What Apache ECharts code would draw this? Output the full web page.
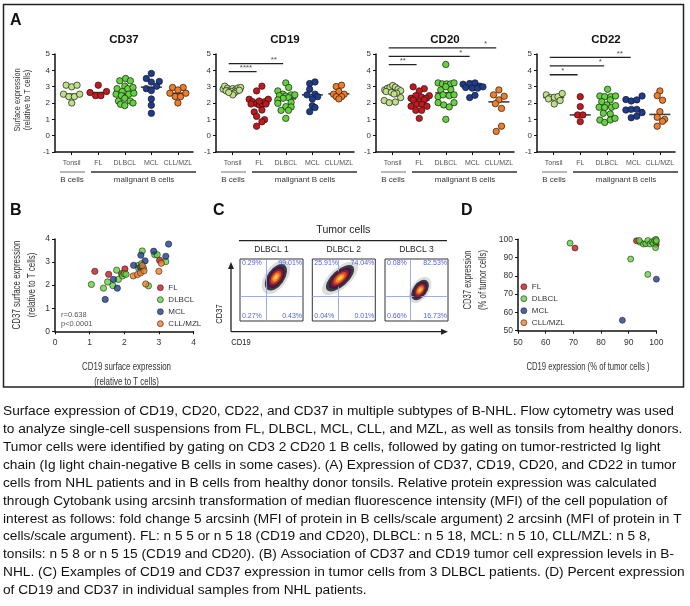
<!DOCTYPE html>
<html><head><meta charset="utf-8">
<script src="https://cdn.jsdelivr.net/npm/echarts@6/dist/echarts.min.js"></script>
<style>html,body{margin:0;padding:0;background:#fff}#c{width:690px;height:606px}</style>
</head><body><div id="c"></div>
<script>
// ================= DATA =================
const categories = ['Tonsil','FL','DLBCL','MCL','CLL/MZL'];
const markerNames = ['CD37','CD19','CD20','CD22'];
const groupLabels = ['B cells','malignant B cells'];

// Panel A: [beeswarm offset, surface expression]
const cd37Tonsil = [[-0.21,3.09],[0,2.99],[0.2,3.09],[-0.31,2.54],[-0.11,2.39],[0.1,2.39],[0.3,2.54],[0,2.0]];
const cd37FL = [[0,3.09],[-0.31,2.64],[-0.1,2.45],[0.1,2.45],[0.31,2.7]];
const cd37DLBCL = [[-0.19,3.36],[0.03,3.5],[0.21,3.36],[-0.29,2.88],[0,3.03],[0.11,2.88],[0.31,2.95],[-0.1,2.7],[-0.33,2.54],[-0.13,2.45],[0.15,2.54],[0.34,2.6],[0,2.29],[-0.24,2.12],[0.2,2.12],[-0.16,1.92],[0,1.84],[0.31,2.0]];
const cd37MCL = [[0,3.81],[-0.19,3.5],[0,3.28],[0.3,3.32],[0.2,3.03],[-0.19,2.88],[0,2.76],[0,2.25],[0,1.86],[0,1.37]];
const cd37CLL = [[-0.2,2.95],[0.2,2.95],[0,2.8],[-0.3,2.6],[0.3,2.6],[-0.1,2.39],[0.1,2.39],[0,2.0]];
const cd37Medians = [2.54,2.64,2.54,2.97,2.6];
const cd37Sig = [];

const cd19Tonsil = [[-0.36,2.85],[-0.3,3.03],[-0.2,2.9],[-0.1,2.8],[0,2.88],[0.1,2.8],[0.2,2.92],[0.3,2.95],[-0.25,2.75],[-0.05,2.7],[0.15,2.72],[0.05,2.6],[0,2.5],[-0.15,2.65],[0.25,2.78]];
const cd19FL = [[0.1,3.03],[-0.1,2.74],[-0.38,2.23],[-0.25,2.08],[-0.1,1.96],[0,1.88],[0.1,1.96],[0.21,2.08],[0.34,2.23],[-0.31,1.94],[0.25,1.94],[0,2.12],[-0.19,1.45],[0.1,1.57],[-0.1,1.18],[0.2,0.98],[0.1,0.85],[-0.1,0.58]];
const cd19DLBCL = [[0,3.23],[-0.3,2.74],[0.11,2.95],[-0.11,2.54],[-0.24,2.45],[0,2.43],[0.2,2.5],[0.34,2.5],[0.1,2.33],[-0.1,2.29],[-0.3,2.19],[0.2,2.04],[-0.3,1.98],[0,1.78],[0.2,1.76],[-0.18,1.55],[0.1,1.55],[0,1.06]];
const cd19MCL = [[-0.1,3.19],[0.1,3.29],[-0.1,2.84],[-0.2,2.5],[0.1,2.54],[0.2,2.39],[0,2.25],[0,1.84],[0.1,1.72],[-0.1,1.47]];
const cd19CLL = [[-0.1,3.01],[0.1,3.09],[0,2.7],[-0.2,2.54],[0.2,2.54],[-0.1,2.39],[0.1,2.39],[0,2.25]];
const cd19Medians = [2.76,1.96,2.25,2.5,2.56];
const cd19Sig = [[1,'****',3.92,0.5],[2,'**',4.41,1.55]];

const cd20Tonsil = [[-0.3,2.8],[-0.2,2.9],[-0.1,2.95],[0,3.07],[0.1,2.97],[0.2,2.85],[0.3,2.75],[-0.25,2.7],[-0.05,2.65],[0.15,2.6],[0.05,2.55],[-0.32,2.15],[-0.13,2.02],[0.1,2.06],[0.3,2.33]];
const cd20FL = [[-0.23,2.99],[0.19,2.88],[0,2.74],[-0.13,2.45],[0.09,2.35],[0.38,2.45],[-0.31,2.29],[0.25,2.29],[0,2.08],[0.19,2.19],[-0.23,2.19],[-0.31,1.8],[-0.09,1.92],[0.1,1.92],[0.29,1.8],[-0.13,1.55],[0.09,1.55],[0,1.06]];
const cd20DLBCL = [[0,4.36],[-0.29,3.23],[-0.13,3.17],[0.03,3.17],[0.18,3.17],[0.31,3.23],[-0.19,2.8],[0.19,2.82],[0,3.0],[-0.29,2.39],[-0.1,2.5],[0.13,2.45],[0.31,2.5],[-0.29,2.02],[-0.08,1.88],[0.13,1.76],[0.31,2.02],[0,1.0]];
const cd20MCL = [[-0.35,3.15],[-0.1,3.19],[0.1,3.23],[0.28,3.03],[-0.25,2.95],[0,2.91],[0.2,2.91],[0.4,2.99],[-0.1,2.33],[0.1,2.47]];
const cd20CLL = [[0,2.8],[-0.2,2.5],[0.2,2.41],[0,2.19],[-0.13,1.96],[0.1,1.67],[0.1,0.58],[-0.1,0.26]];
const cd20Medians = [2.66,2.19,2.62,2.95,2.07];
const cd20Sig = [[1,'**',4.35,0.38],[3,'*',4.85,2.57],[4,'*',5.37,3.5]];

const cd22Tonsil = [[-0.28,2.5],[-0.13,2.33],[0.02,2.35],[0.16,2.39],[0.32,2.58],[0.24,2.15],[0.02,1.94],[-0.2,2.25]];
const cd22FL = [[0,2.39],[0,1.78],[-0.1,1.27],[0.1,1.27],[0,0.86]];
const cd22DLBCL = [[0.03,2.84],[-0.26,2.43],[-0.08,2.39],[0.15,2.39],[0.33,2.43],[-0.19,2.08],[0.13,2.19],[0,1.88],[-0.29,1.74],[-0.08,1.72],[0.18,1.74],[0.33,1.84],[0.13,1.33],[-0.13,1.37],[-0.26,0.96],[-0.08,0.81],[0.13,0.96],[0.31,1.06]];
const cd22MCL = [[-0.28,2.21],[-0.08,2.12],[0.13,2.19],[0.33,2.43],[-0.28,1.57],[-0.08,1.61],[0.13,1.61],[0.33,1.41],[-0.08,1.1],[0.13,1.19]];
const cd22CLL = [[0,2.74],[-0.1,2.45],[0.1,2.17],[0,1.47],[-0.1,1.13],[0.18,1.0],[0.1,0.88],[-0.1,0.58]];
const cd22Medians = [2.34,1.27,1.78,1.59,1.3];
const cd22Sig = [[1,'*',3.73,0.34],[2,'*',4.27,1.76],[3,'**',4.79,2.49]];

// Panel B: [CD19, CD37] relative to T cells
const bFL = [[1.15,2.6],[1.55,2.47],[1.92,2.5],[2.02,2.7],[3.02,3.08]];
const bDLBCL = [[1.05,2.03],[1.4,1.87],[1.52,2.14],[1.67,1.98],[1.78,2.65],[1.83,2.25],[1.95,2.4],[2.0,2.5],[2.05,2.47],[2.4,2.85],[2.42,2.72],[2.5,2.93],[2.52,3.48],[2.55,2.75],[2.88,3.32],[2.95,3.32],[3.2,3.02],[2.7,1.97]];
const bMCL = [[1.45,1.38],[1.69,2.25],[1.8,1.87],[2.27,2.86],[2.48,3.3],[2.47,2.76],[2.6,3.05],[2.85,3.47],[3.2,3.25],[3.28,3.78]];
const bCLL = [[2.26,2.4],[2.38,2.46],[2.47,2.53],[2.57,2.62],[2.62,2.05],[3.0,2.6],[3.07,2.95],[2.52,2.85]];
const bStats = ['r=0.638','p<0.0001'];

// Panel D: [% CD19+, % CD37+]
const dFL = [[70.6,95.2],[92.8,99.2],[99.9,97.2]];
const dDLBCL = [[68.8,97.9],[90.7,89.2],[96.9,80.8],[94.1,98.4],[95.3,97.4],[96.2,97.6],[96.9,99.3],[97.7,97.4],[98.4,98.6],[98.9,97.8],[99.3,99.4],[99.8,100],[99.7,95.4],[99.9,98.6],[100,99.3],[93.8,99.4]];
const dMCL = [[87.7,55.7],[100,78.2]];

// Panel C: flow cytometry examples
const flowSamples = ['DLBCL 1','DLBCL 2','DLBCL 3'];
const flowCenters = [[0.57,0.705],[0.44,0.69],[0.556,0.5]];
const flowGates = [[0.41,0.4],[0.41,0.4],[0.4,0.4]];
const flowQuadrants = [['0.29%','99.01%','0.27%','0.43%'],['25.91%','74.04%','0.04%','0.01%'],['0.08%','82.53%','0.66%','16.73%']];

const captionLines = [
 'Surface expression of CD19, CD20, CD22, and CD37 in multiple subtypes of B-NHL. Flow cytometry was used',
 'to analyze single-cell suspensions from FL, DLBCL, MCL, CLL, and MZL, as well as tonsils from healthy donors.',
 'Tumor cells were identified by gating on CD3 2 CD20 1 B cells, followed by gating on tumor-restricted Ig light',
 'chain (Ig light chain-negative B cells in some cases). (A) Expression of CD37, CD19, CD20, and CD22 in tumor',
 'cells from NHL patients and in B cells from healthy donor tonsils. Relative protein expression was calculated',
 'through Cytobank using arcsinh transformation of median fluorescence intensity (MFI) of the cell population of',
 'interest as follows: fold change 5 arcsinh (MFI of protein in B cells/scale argument) 2 arcsinh (MFI of protein in T',
 'cells/scale argument). FL: n 5 5 or n 5 18 (CD19 and CD20), DLBCL: n 5 18, MCL: n 5 10, CLL/MZL: n 5 8,',
 'tonsils: n 5 8 or n 5 15 (CD19 and CD20). (B) Association of CD37 and CD19 tumor cell expression levels in B-',
 'NHL. (C) Examples of CD19 and CD37 expression in tumor cells from 3 DLBCL patients. (D) Percent expression',
 'of CD19 and CD37 in individual samples from NHL patients.'
];

// ================= STYLE / LAYOUT =================
const FONT = '"Liberation Sans", Arial, Helvetica, sans-serif';
const colors = ['#bfe08a','#c8161d','#62d33c','#1e3c8f','#f27c28'];
const A_LEFT = [55,216,376,537], A_TOP = 54, A_W = 138, A_H = 98;
const C_LEFT = [240,312.3,385], C_TOP = 259, C_W = 63, C_H = 62;
const flowSize = [[30,17],[35,16],[23,14]];
const flowAngle = [55,42,54];
const blobLayers = [
  {s:1.28, c:'rgba(60,60,60,0.22)'},
  {s:1.0, c:'#141414'},
  {s:0.8, c:'#3b0f4f'},
  {s:0.64, c:'#a41d2c'},
  {s:0.48, c:'#e8541e'},
  {s:0.32, c:'#f7a524'},
  {s:0.16, c:'#ffe45a'}
];

const aSets = [
  {groups:[cd37Tonsil,cd37FL,cd37DLBCL,cd37MCL,cd37CLL], med:cd37Medians, sig:cd37Sig},
  {groups:[cd19Tonsil,cd19FL,cd19DLBCL,cd19MCL,cd19CLL], med:cd19Medians, sig:cd19Sig},
  {groups:[cd20Tonsil,cd20FL,cd20DLBCL,cd20MCL,cd20CLL], med:cd20Medians, sig:cd20Sig},
  {groups:[cd22Tonsil,cd22FL,cd22DLBCL,cd22MCL,cd22CLL], med:cd22Medians, sig:cd22Sig}
];

const grid = [], xAxis = [], yAxis = [], series = [], graphic = [];
const axLine = {show:true, onZero:false, lineStyle:{color:'#111', width:1.5}};
const axTick = {show:true, length:3, lineStyle:{color:'#111', width:1}};

// ---- Panel A ----
aSets.forEach((set, i) => {
  grid.push({left:A_LEFT[i], top:A_TOP, width:A_W, height:A_H});
  xAxis.push({gridIndex:i, type:'value', min:-0.63, max:4.57, axisLine:axLine,
    axisTick:Object.assign({}, axTick, {customValues:[0,1,2,3,4]}),
    axisLabel:{customValues:[0,1,2,3,4], formatter:v=>categories[Math.round(v)], fontSize:7, color:'#555', margin:8},
    splitLine:{show:false}});
  yAxis.push({gridIndex:i, type:'value', min:-1, max:5, interval:1, axisLine:axLine, axisTick:axTick,
    axisLabel:{fontSize:8, color:'#333', margin:5}, splitLine:{show:false}});
  series.push({type:'scatter', name:markerNames[i]+' median', xAxisIndex:i, yAxisIndex:i, silent:true, z:2,
    symbol:'rect', symbolSize:[21,1.6], itemStyle:{color:'#111'},
    data:set.med.map((v,j)=>[j,v])});
  set.groups.forEach((g, j) => {
    series.push({type:'scatter', name:markerNames[i]+' '+categories[j], xAxisIndex:i, yAxisIndex:i, silent:true, z:3,
      symbolSize:6.4, itemStyle:{color:colors[j], borderColor:'#1a1a1a', borderWidth:0.7, opacity:1},
      data:g.map(([dx,v])=>[j+dx, v])});
  });
  set.sig.forEach(([t, lab, lev, sx]) => {
    series.push({type:'line', xAxisIndex:i, yAxisIndex:i, silent:true, clip:false, symbol:'none',
      lineStyle:{color:'#222', width:1.3}, data:[[-0.15,lev],[t-0.1,lev]]});
    series.push({type:'scatter', xAxisIndex:i, yAxisIndex:i, silent:true, clip:false, symbolSize:0,
      label:{show:true, position:'top', distance:0, formatter:lab, fontSize:8, color:'#222'},
      data:[[sx,lev]]});
  });
});

// ---- Panel B ----
const gB = grid.length;
grid.push({left:55, top:239, width:138.5, height:92.3});
xAxis.push({gridIndex:gB, type:'value', min:0, max:4, interval:1, axisLine:axLine, axisTick:axTick,
  axisLabel:{fontSize:8.5, color:'#333', margin:7}, splitLine:{show:false}});
yAxis.push({gridIndex:gB, type:'value', min:0, max:4, interval:1, axisLine:axLine, axisTick:axTick,
  axisLabel:{fontSize:8.5, color:'#333', margin:5}, splitLine:{show:false}});
[['FL',bFL,1],['DLBCL',bDLBCL,2],['MCL',bMCL,3],['CLL/MZL',bCLL,4]].forEach(([n,d,ci]) => {
  series.push({type:'scatter', name:n, xAxisIndex:gB, yAxisIndex:gB, silent:true, symbolSize:6.3,
    itemStyle:{color:colors[ci], borderColor:'#1a1a1a', borderWidth:0.7}, data:d});
});

// ---- Panel D ----
const gD = grid.length;
grid.push({left:518, top:239.3, width:138.4, height:91.4});
xAxis.push({gridIndex:gD, type:'value', min:50, max:100, interval:10, axisLine:axLine, axisTick:axTick,
  axisLabel:{fontSize:8.5, color:'#333', margin:7}, splitLine:{show:false}});
yAxis.push({gridIndex:gD, type:'value', min:50, max:100, interval:10, axisLine:axLine, axisTick:axTick,
  axisLabel:{fontSize:8.5, color:'#333', margin:5}, splitLine:{show:false}});
[['FL',dFL,1],['DLBCL',dDLBCL,2],['MCL',dMCL,3]].forEach(([n,d,ci]) => {
  series.push({type:'scatter', name:n, xAxisIndex:gD, yAxisIndex:gD, silent:true, symbolSize:6, clip:false,
    itemStyle:{color:colors[ci], borderColor:'#1a1a1a', borderWidth:0.7}, data:d});
});

// ---- Panel C ----
flowSamples.forEach((s, k) => {
  const gi = grid.length;
  grid.push({left:C_LEFT[k], top:C_TOP, width:C_W, height:C_H, show:true, borderColor:'#333', borderWidth:1, backgroundColor:'#fff'});
  xAxis.push({gridIndex:gi, type:'value', min:0, max:1, show:false});
  yAxis.push({gridIndex:gi, type:'value', min:0, max:1, show:false});
  blobLayers.forEach((L, li) => {
    const sObj = {type:'scatter', xAxisIndex:gi, yAxisIndex:gi, silent:true, z:3+li,
      symbol:'circle', symbolSize:[flowSize[k][0]*L.s, flowSize[k][1]*L.s], symbolRotate:flowAngle[k],
      itemStyle:{color:L.c}, data:[flowCenters[k]]};
    if (li === 0) {
      sObj.markLine = {silent:true, symbol:['none','none'], label:{show:false},
        lineStyle:{color:'#8ea4ea', width:0.9, type:'solid'},
        data:[{xAxis:flowGates[k][0]},{yAxis:flowGates[k][1]}]};
    }
    series.push(sObj);
  });
});

// ================= GRAPHIC (text, frames) =================
function T(x, y, text, o) {
  o = o || {};
  return {type:'text', x:x, y:y, rotation:o.rot||0, scaleX:o.sx||1, silent:true, z:50,
    style:{text:text, fill:o.color||'#222', fontSize:o.size||9, fontFamily:o.family||FONT,
      fontWeight:o.weight||'normal', align:o.align||'center', verticalAlign:'middle'}};
}
function Lg(x1,y1,x2,y2,c,w){return {type:'line', silent:true, z:50, shape:{x1,y1,x2,y2}, style:{stroke:c||'#222', lineWidth:w||1.3}};}

graphic.push({type:'rect', silent:true, shape:{x:3.5,y:4.5,width:680,height:382.5}, style:{fill:'none', stroke:'#222', lineWidth:1.5}});
// panel letters
graphic.push(T(10,21,'A',{size:16, weight:'bold', align:'left', color:'#111'}));
graphic.push(T(10,211,'B',{size:16, weight:'bold', align:'left', color:'#111'}));
graphic.push(T(213,211,'C',{size:16, weight:'bold', align:'left', color:'#111'}));
graphic.push(T(461,211,'D',{size:16, weight:'bold', align:'left', color:'#111'}));
// panel A titles, group labels
markerNames.forEach((m, i) => {
  const L = A_LEFT[i];
  graphic.push(T(L+69, 40, m, {size:11.5, weight:'bold', color:'#111'}));
  graphic.push(Lg(L+5,172,L+30,172,'#999',1.4));
  graphic.push(Lg(L+36,172,L+141,172,'#333',1.4));
  graphic.push(T(L+17,179.5,groupLabels[0],{size:8, color:'#333'}));
  graphic.push(T(L+89,179.5,groupLabels[1],{size:8, color:'#333'}));
});
graphic.push(T(18,100,'Surface expression',{size:9, sx:0.82, rot:Math.PI/2, color:'#333'}));
graphic.push(T(28,100,'(relative to T cells)',{size:9, sx:0.82, rot:Math.PI/2, color:'#333'}));
// panel B labels
graphic.push(T(17,285,'CD37 surface expression',{size:11, sx:0.72, rot:Math.PI/2, color:'#333'}));
graphic.push(T(32,285,'(relative to T cells)',{size:11, sx:0.72, rot:Math.PI/2, color:'#333'}));
graphic.push(T(126.5,367,'CD19 surface expression',{size:11, sx:0.72, color:'#333'}));
graphic.push(T(126.5,382,'(relative to T cells)',{size:11, sx:0.72, color:'#333'}));
graphic.push(T(61,314.5,bStats[0],{size:7.5, align:'left', color:'#555'}));
graphic.push(T(61,324,bStats[1],{size:7.5, align:'left', color:'#555'}));
// panel D labels
graphic.push(T(468,280,'CD37 expression',{size:11, sx:0.7, rot:Math.PI/2, color:'#333'}));
graphic.push(T(483,280,'(% of tumor cells)',{size:11, sx:0.7, rot:Math.PI/2, color:'#333'}));
graphic.push(T(588,367,'CD19 expression (% of tumor cells )',{size:11, sx:0.7, color:'#333'}));
// panel C labels
graphic.push(T(343.3,230,'Tumor cells',{size:10.5, color:'#222'}));
graphic.push(Lg(239,240.7,447,240.7,'#222',1.3));
flowSamples.forEach((s,k) => {
  const L = C_LEFT[k];
  graphic.push(T(L+C_W/2,250,s,{size:8.5, color:'#222'}));
  const q = flowQuadrants[k];
  graphic.push(T(L+2,C_TOP+4.5,q[0],{size:7, align:'left', color:'#4f63e6'}));
  graphic.push(T(L+C_W-1,C_TOP+4.5,q[1],{size:7, align:'right', color:'#4f63e6'}));
  graphic.push(T(L+2,C_TOP+C_H-4.5,q[2],{size:7, align:'left', color:'#4f63e6'}));
  graphic.push(T(L+C_W-1,C_TOP+C_H-4.5,q[3],{size:7, align:'right', color:'#4f63e6'}));
});
graphic.push(Lg(231,331.7,231,268,'#222',1.3));
graphic.push(Lg(231,331.7,442,331.7,'#222',1.3));
graphic.push({type:'polygon', silent:true, z:50, shape:{points:[[231,262],[228,269],[234,269]]}, style:{fill:'#222'}});
graphic.push({type:'polygon', silent:true, z:50, shape:{points:[[448,331.7],[441,328.7],[441,334.7]]}, style:{fill:'#222'}});
graphic.push(T(219,314,'CD37',{size:9.5, sx:0.8, rot:Math.PI/2, color:'#222'}));
graphic.push(T(241,342,'CD19',{size:9.5, sx:0.8, color:'#222'}));
// caption
captionLines.forEach((ln, i) => {
  graphic.push(T(3, 411.7 + i*17.85, ln, {size:13.7, align:'left', color:'#111'}));
});

const legendBase = {orient:'vertical', data:['FL','DLBCL','MCL','CLL/MZL'], icon:'circle', itemWidth:6, itemHeight:6,
  itemGap:4, padding:0, selectedMode:false,
  itemStyle:{borderColor:'#1a1a1a', borderWidth:0.7},
  textStyle:{fontSize:8, color:'#333', lineHeight:8}};

const option = {
  animation:false,
  backgroundColor:'#fff',
  textStyle:{fontFamily:FONT},
  grid, xAxis, yAxis, series, graphic,
  legend:[Object.assign({left:157, top:283.7}, legendBase), Object.assign({left:520.5, top:282.7}, legendBase)]
};
const chart = echarts.init(document.getElementById('c'), null, {renderer:'canvas'});
chart.setOption(option);
</script></body></html>
